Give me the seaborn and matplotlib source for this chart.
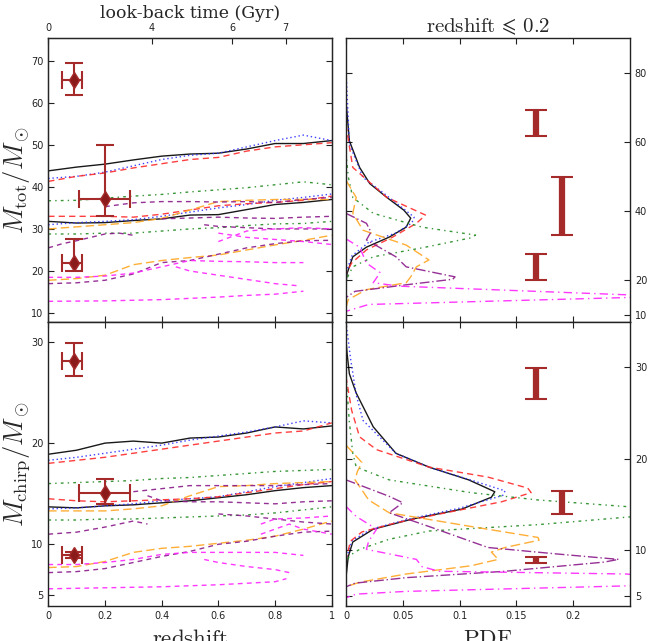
import pandas as pd
import matplotlib
matplotlib.use('Agg')
import matplotlib.pyplot as plt
from matplotlib.ticker import FormatStrFormatter
import seaborn as sns

# ---------------- data ----------------
z_grid = [0.0, 0.1, 0.2, 0.3, 0.4, 0.5, 0.6, 0.7, 0.8, 0.9, 1.0]

# total mass vs redshift (upper / lower curves per model)
tot_black_hi = [43.8, 44.7, 45.4, 46.4, 47.3, 47.8, 48.0, 49.0, 50.3, 50.3, 51.0]
tot_black_lo = [31.8, 31.4, 31.5, 32.0, 32.4, 33.3, 33.4, 34.6, 35.8, 36.3, 37.0]
tot_blue_hi = [42.0, 42.5, 43.5, 45.0, 46.5, 47.5, 48.0, 49.5, 51.0, 52.3, 51.0]
tot_blue_lo = [31.0, 31.5, 31.8, 32.2, 33.0, 34.0, 35.0, 35.8, 36.8, 37.5, 38.3]
tot_red_hi = [41.3, 42.5, 43.3, 44.5, 45.5, 46.5, 47.0, 48.5, 49.5, 50.0, 50.5]
tot_red_lo = [33.0, 33.0, 33.0, 32.8, 33.5, 34.5, 35.5, 36.0, 36.3, 36.8, 37.8]
tot_green_hi = [36.7, 36.8, 37.3, 37.8, 38.2, 38.8, 39.3, 39.8, 40.5, 41.2, 40.5]
tot_green_lo = [28.8, 28.8, 29.0, 29.0, 29.5, 30.0, 30.3, 30.8, 31.2, 31.3, 31.8]
tot_orange_hi = [30.0, 30.5, 31.0, 31.5, 32.5, 34.5, 36.5, 36.8, 37.0, 37.0, 37.0]
tot_orange_lo = [17.8, 18.2, 19.0, 21.5, 22.5, 23.2, 23.8, 25.0, 26.2, 27.3, 28.5]
tot_purple = [
    (z_grid, [17.0, 17.2, 17.8, 19.3, 22.0, 22.5, 24.0, 25.5, 26.5, 27.2, 27.3]),
    ([0.2, 0.3, 0.4, 0.5, 0.6, 0.7, 0.8, 0.9, 1.0], [35.3, 36.2, 36.5, 36.5, 36.4, 36.5, 36.3, 37.0, 37.5]),
    ([0.4, 0.5, 0.6, 0.7, 0.8, 0.9, 1.0], [32.4, 32.6, 32.8, 32.6, 32.5, 32.8, 33.0]),
    ([0.0, 0.05, 0.1, 0.15, 0.2, 0.25, 0.3], [25.5, 26.5, 27.2, 28.0, 28.8, 29.0, 28.5]),
    ([0.55, 0.6, 0.7, 0.8, 0.9, 1.0], [31.0, 30.6, 30.3, 30.0, 30.0, 30.0]),
]
tot_magenta = [
    ([0.0, 0.2, 0.4, 0.6, 0.7, 0.8, 0.9], [12.8, 12.9, 13.2, 13.8, 14.2, 14.5, 15.2]),
    ([0.0, 0.1, 0.2, 0.3, 0.4, 0.5, 0.6, 0.7, 0.8, 0.9], [18.5, 18.5, 18.8, 19.5, 21.0, 22.5, 22.3, 22.2, 22.0, 22.0]),
    ([0.45, 0.5, 0.6, 0.7, 0.8, 0.88], [21.0, 20.0, 19.0, 18.0, 17.0, 16.5]),
    ([0.6, 0.7, 0.8, 0.9, 1.0], [29.0, 28.0, 27.5, 27.0, 26.3]),
    ([0.6, 0.7, 0.8, 0.9, 1.0], [27.0, 29.5, 30.0, 30.3, 30.0]),
]

# chirp mass vs redshift
chirp_black_hi = [18.9, 19.3, 20.0, 20.2, 20.0, 20.5, 20.6, 21.0, 21.6, 21.4, 21.7]
chirp_black_lo = [13.7, 13.6, 13.8, 13.9, 14.1, 14.3, 14.6, 14.9, 15.3, 15.6, 15.8]
chirp_blue_hi = [18.3, 18.6, 19.0, 19.4, 19.8, 20.3, 20.7, 21.1, 21.6, 22.2, 22.0]
chirp_blue_lo = [13.5, 13.6, 13.8, 14.0, 14.3, 14.5, 14.7, 15.2, 15.7, 16.1, 16.5]
chirp_red_hi = [18.0, 18.3, 18.6, 19.0, 19.4, 19.8, 20.2, 20.6, 21.0, 21.2, 22.0]
chirp_red_lo = [14.5, 14.3, 14.2, 14.3, 14.4, 14.5, 14.7, 15.1, 15.5, 15.9, 16.2]
chirp_green_hi = [16.0, 16.1, 16.2, 16.3, 16.5, 16.6, 16.8, 17.0, 17.2, 17.3, 17.4]
chirp_green_lo = [12.4, 12.4, 12.5, 12.5, 12.6, 12.7, 12.8, 12.9, 13.1, 13.4, 13.7]
chirp_orange_hi = [13.3, 13.3, 13.3, 13.5, 13.8, 14.8, 15.7, 15.8, 16.0, 16.1, 16.2]
chirp_orange_lo = [7.7, 7.8, 8.3, 9.2, 9.6, 9.8, 10.1, 10.4, 10.8, 11.5, 12.3]
chirp_purple = [
    (z_grid, [7.2, 7.3, 7.6, 8.2, 8.8, 9.3, 10.0, 10.3, 10.8, 11.2, 11.3]),
    ([0.3, 0.4, 0.5, 0.6, 0.7, 0.8, 0.9, 1.0], [15.2, 15.5, 15.8, 15.8, 15.8, 15.8, 15.9, 16.0]),
    ([0.35, 0.4, 0.5, 0.6, 0.7, 0.8, 0.9, 1.0], [14.8, 14.3, 14.2, 14.2, 14.1, 14.0, 14.2, 14.3]),
    ([0.0, 0.1, 0.2, 0.3, 0.35], [11.0, 11.2, 11.7, 12.3, 12.0]),
    ([0.6, 0.7, 0.8, 0.9, 1.0], [13.0, 12.8, 12.5, 12.2, 12.0]),
]
chirp_magenta = [
    ([0.0, 0.2, 0.4, 0.6, 0.8, 0.84], [5.6, 5.7, 5.8, 6.0, 6.3, 6.6]),
    ([0.0, 0.1, 0.2, 0.3, 0.4, 0.5, 0.6, 0.7, 0.8, 0.9], [8.0, 8.0, 8.2, 8.5, 9.0, 9.2, 9.2, 9.2, 9.2, 8.9]),
    ([0.55, 0.6, 0.7, 0.8, 0.85], [8.5, 8.2, 7.8, 7.5, 7.2]),
    ([0.75, 0.8, 0.9, 1.0], [12.0, 12.5, 12.6, 12.8]),
    ([0.75, 0.85, 0.9, 1.0], [11.0, 12.0, 11.5, 11.0]),
]

# PDFs at redshift <= 0.2 (mass, pdf)
pdf_tot = {
    'black': ([72, 60.4, 52.7, 48, 44, 40.3, 38, 35.4, 32.5, 29.6, 26.8, 22, 19],
              [0, 0.003, 0.012, 0.021, 0.036, 0.051, 0.057, 0.053, 0.038, 0.018, 0.006, 0.001, 0]),
    'blue': ([81, 59.5, 49.8, 44, 38.3, 36.6, 33.7, 31, 27, 22],
             [0, 0.003, 0.015, 0.038, 0.060, 0.058, 0.044, 0.020, 0.005, 0]),
    'red': ([65, 52.7, 44, 38.9, 36.5, 32.5, 28.8, 25, 22],
            [0, 0.006, 0.036, 0.070, 0.062, 0.041, 0.018, 0.005, 0]),
    'green': ([57, 50, 44, 39.4, 35.4, 33.1, 32.3, 29.4, 26.8, 23.9, 20],
              [0, 0.002, 0.006, 0.024, 0.067, 0.114, 0.110, 0.067, 0.024, 0.006, 0]),
    'orange': ([49, 44, 39.4, 34.5, 30.2, 25.9, 23.9, 21, 19.3, 17.3, 14.4, 12],
               [0, 0.009, 0.006, 0.015, 0.053, 0.073, 0.062, 0.057, 0.053, 0.018, 0.002, 0]),
    'purple': ([39.4, 36.5, 34, 31.7, 26.8, 23.9, 21, 20.3, 18.7, 16.8, 15],
               [0, 0.018, 0.022, 0.018, 0.044, 0.053, 0.096, 0.094, 0.053, 0.008, 0]),
    'magenta': ([32, 29.6, 25, 22.2, 19.3, 18.3, 15.8, 15.4, 15.0, 13.0, 11],
                [0, 0.012, 0.018, 0.030, 0.024, 0.047, 0.247, 0.29, 0.247, 0.02, 0]),
}
pdf_chirp = {
    'black': ([33, 31.5, 29.3, 27.2, 23.5, 20.6, 19.1, 17.7, 16.4, 15.8, 14.5, 13.4, 12.3, 10.9, 9.3, 7],
              [0, 0.001, 0.003, 0.009, 0.024, 0.044, 0.073, 0.108, 0.131, 0.128, 0.102, 0.058, 0.024, 0.006, 0.002, 0]),
    'blue': ([35, 31, 27, 24.2, 20.6, 19, 17.6, 16.5, 16.0, 14.6, 13.4, 12.3, 11, 9],
             [0, 0.004, 0.009, 0.015, 0.044, 0.075, 0.112, 0.140, 0.138, 0.10, 0.055, 0.022, 0.005, 0]),
    'red': ([29, 25.3, 22.4, 21, 19.1, 18, 16.8, 16.3, 15.3, 14.1, 13, 12, 11, 9],
            [0, 0.005, 0.012, 0.027, 0.073, 0.125, 0.160, 0.163, 0.137, 0.088, 0.044, 0.014, 0.004, 0]),
    'green': ([29, 24, 20.6, 19.1, 17.7, 16.3, 15.5, 14.7, 14.2, 13.7, 12.8, 12.1, 11.2, 10.1, 9.4, 8.5],
              [0, 0.003, 0.006, 0.009, 0.038, 0.110, 0.169, 0.255, 0.30, 0.255, 0.169, 0.073, 0.038, 0.012, 0.003, 0]),
    'orange': ([21.5, 19.6, 18.6, 17.7, 15.5, 14.1, 12.6, 11.4, 11.1, 10.3, 9.8, 9.0, 8.3, 7.4, 6.5, 6.0],
               [0, 0.014, 0.010, 0.008, 0.020, 0.038, 0.110, 0.169, 0.170, 0.140, 0.128, 0.134, 0.110, 0.053, 0.012, 0]),
    'purple': ([17.7, 15.9, 15.2, 14.1, 12.6, 10.3, 9.6, 9.0, 8.7, 7.7, 7.0, 6.4, 6.0],
               [0, 0.038, 0.050, 0.038, 0.073, 0.125, 0.185, 0.240, 0.227, 0.14, 0.053, 0.008, 0]),
    'magenta': ([14.8, 13.7, 12.3, 11.0, 10.1, 9.0, 8.2, 7.7, 7.4, 6.8, 6.1, 5.5, 5.2, 4.8],
                [0, 0.009, 0.027, 0.020, 0.018, 0.062, 0.067, 0.082, 0.247, 0.30, 0.247, 0.053, 0.009, 0]),
}

# observed events
ev_z = [0.09, 0.2, 0.09]
ev_z_lo = [0.04, 0.09, 0.04]
ev_z_hi = [0.03, 0.09, 0.03]
ev_tot = [65.3, 37.0, 21.8]
ev_tot_lo = [3.4, 4.0, 1.7]
ev_tot_hi = [4.1, 13.0, 5.9]
ev_chirp = [28.1, 15.1, 8.9]
ev_chirp_lo = [1.5, 1.1, 0.25]
ev_chirp_hi = [1.8, 1.4, 0.33]
ev_bar_pdf = [0.167, 0.19, 0.167]

lookback_pos = [0.0, 0.366, 0.649, 0.837]
lookback_lab = ['0', '4', '6', '7']

# ---------------- styling ----------------
sns.set_style('ticks')
plt.rcParams['mathtext.fontset'] = 'cm'
plt.rcParams['font.family'] = ['DejaVu Sans']

colors = {'black': 'black', 'blue': '#2b2bff', 'red': '#ff2a2a', 'green': '#228b22',
          'orange': '#ffa520', 'purple': '#8a1a8a', 'magenta': '#ff22ff'}
dash_left = {'black': '', 'blue': (1, 2), 'red': (4.5, 3), 'green': (2, 3, 1, 3),
             'orange': (6, 3), 'purple': (3.5, 3), 'magenta': (3.5, 3)}
dash_right = {'black': '', 'blue': (1, 2), 'red': (4.5, 3), 'green': (2, 3, 1, 3),
              'orange': (7, 3), 'purple': (7, 2, 1, 2), 'magenta': (6, 3, 1, 3)}
brown = '#a52a2a'


def evolution_frame(hi_lo, purple, magenta):
    rows = []
    for model, (hi, lo) in hi_lo.items():
        for key, vals in (('hi', hi), ('lo', lo)):
            for z, m in zip(z_grid, vals):
                rows.append((model, model + key, z, m))
    for model, segs in (('purple', purple), ('magenta', magenta)):
        for i, (zs, ms) in enumerate(segs):
            for z, m in zip(zs, ms):
                rows.append((model, model + str(i), z, m))
    return pd.DataFrame(rows, columns=['model', 'line', 'x', 'y'])


def pdf_frame(curves):
    rows = []
    for model, (ms, ps) in curves.items():
        for m, p in zip(ms, ps):
            rows.append((model, model, p, m))
    return pd.DataFrame(rows, columns=['model', 'line', 'x', 'y'])


df_tot = evolution_frame({'black': (tot_black_hi, tot_black_lo), 'blue': (tot_blue_hi, tot_blue_lo),
                          'red': (tot_red_hi, tot_red_lo), 'green': (tot_green_hi, tot_green_lo),
                          'orange': (tot_orange_hi, tot_orange_lo)}, tot_purple, tot_magenta)
df_chirp = evolution_frame({'black': (chirp_black_hi, chirp_black_lo), 'blue': (chirp_blue_hi, chirp_blue_lo),
                            'red': (chirp_red_hi, chirp_red_lo), 'green': (chirp_green_hi, chirp_green_lo),
                            'orange': (chirp_orange_hi, chirp_orange_lo)}, chirp_purple, chirp_magenta)
df_pdf_tot = pdf_frame(pdf_tot)
df_pdf_chirp = pdf_frame(pdf_chirp)

fig = plt.figure(figsize=(6.55, 6.41), dpi=100)
ax_tl = fig.add_axes([0.0737, 0.4981, 0.4328, 0.4421])
ax_bl = fig.add_axes([0.0737, 0.0546, 0.4328, 0.4435])
ax_tr = fig.add_axes([0.5282, 0.4981, 0.4336, 0.4421])
ax_br = fig.add_axes([0.5282, 0.0546, 0.4336, 0.4435])

for ax, df in ((ax_tl, df_tot), (ax_bl, df_chirp)):
    sns.lineplot(data=df, x='x', y='y', hue='model', style='model', units='line',
                 estimator=None, palette=colors, dashes=dash_left, linewidth=1.0,
                 alpha=0.9, legend=False, sort=False, ax=ax)
for ax, df in ((ax_tr, df_pdf_tot), (ax_br, df_pdf_chirp)):
    sns.lineplot(data=df, x='x', y='y', hue='model', style='model', units='line',
                 estimator=None, palette=colors, dashes=dash_right, linewidth=1.0,
                 alpha=0.9, legend=False, sort=False, ax=ax)

ax_tl.errorbar(ev_z, ev_tot, xerr=[ev_z_lo, ev_z_hi], yerr=[ev_tot_lo, ev_tot_hi], fmt='d',
               color=brown, mfc='#8b1a1a', mec=brown, ms=8, capsize=6.5, elinewidth=1.5,
               capthick=1.5, zorder=5)
ax_bl.errorbar(ev_z, ev_chirp, xerr=[ev_z_lo, ev_z_hi], yerr=[ev_chirp_lo, ev_chirp_hi], fmt='d',
               color=brown, mfc='#8b1a1a', mec=brown, ms=8, capsize=6.5, elinewidth=1.5,
               capthick=1.5, zorder=5)
ax_tr.errorbar(ev_bar_pdf, ev_tot, yerr=[ev_tot_lo, ev_tot_hi], fmt='none', ecolor=brown,
               elinewidth=4.5, capsize=8, capthick=1.5, zorder=5)
ax_br.errorbar(ev_bar_pdf, ev_chirp, yerr=[ev_chirp_lo, ev_chirp_hi], fmt='none', ecolor=brown,
               elinewidth=4.5, capsize=8, capthick=1.5, zorder=5)

ax_tl.set_ylim(7.95, 75.3)
ax_bl.set_ylim(3.9, 32.0)
ax_tr.set_ylim(8.0, 90.1)
ax_br.set_ylim(3.9, 35.0)
for ax in (ax_tl, ax_bl):
    ax.set_xlim(0, 1)
    ax.set_xticks([0, 0.2, 0.4, 0.6, 0.8, 1.0])
for ax in (ax_tr, ax_br):
    ax.set_xlim(0, 0.25)
    ax.set_xticks([0, 0.05, 0.1, 0.15, 0.2])
ax_tl.set_yticks([10, 20, 30, 40, 50, 60, 70])
ax_bl.set_yticks([5, 10, 20, 30])
ax_tr.set_yticks([10, 20, 40, 60, 80])
ax_br.set_yticks([5, 10, 20, 30])

for ax in (ax_tl, ax_bl, ax_tr, ax_br):
    ax.set_xlabel('')
    ax.set_ylabel('')
    ax.xaxis.set_major_formatter(FormatStrFormatter('%g'))
    ax.tick_params(direction='in', length=4, width=0.8, labelsize=7, top=True, right=True,
                   colors='#222222')
    for sp in ax.spines.values():
        sp.set_linewidth(1.0)
        sp.set_color('#222222')

ax_tl.tick_params(labelbottom=False, top=False)
ax_tr.tick_params(labelbottom=False)
ax_tr.tick_params(labelleft=False, labelright=True)
ax_br.tick_params(labelleft=False, labelright=True)

ax_top = ax_tl.twiny()
ax_top.set_xlim(0, 1)
ax_top.set_xticks(lookback_pos)
ax_top.set_xticklabels(lookback_lab)
ax_top.tick_params(direction='in', length=4, width=0.8, labelsize=7, colors='#222222')

ax_tl.set_ylabel(r'$M_{\rm tot}/M_\odot$', fontsize=19)
ax_bl.set_ylabel(r'$M_{\rm chirp}/M_\odot$', fontsize=19)
ax_tl.yaxis.set_label_coords(-0.058, 0.5)
ax_bl.yaxis.set_label_coords(-0.058, 0.5)

fig.text(0.2901, 1 - 18 / 641, 'look-back time (Gyr)', family='DejaVu Serif', fontsize=12.5,
         ha='center', va='baseline')
fig.text(0.745, 1 - 32 / 641, r'$\mathrm{redshift}\,\leqslant\,0.2$', fontsize=15,
         ha='center', va='baseline')
fig.text(0.2901, 1 - 645 / 641, r'$\mathrm{redshift}$', fontsize=16.5, ha='center', va='baseline')
fig.text(0.745, 1 - 645 / 641, r'$\mathrm{PDF}$', fontsize=16.5, ha='center', va='baseline')

fig.savefig('out.png', dpi=100)
